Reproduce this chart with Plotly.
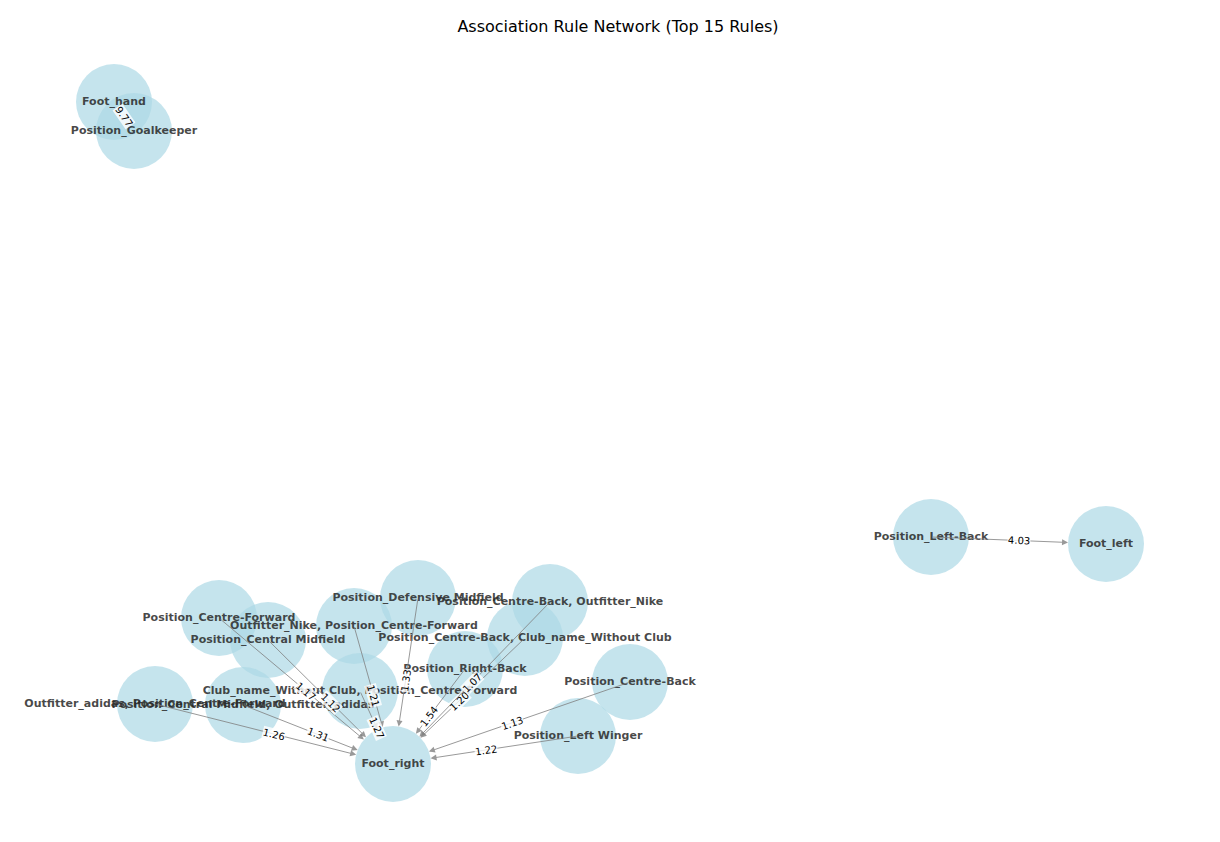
import math
import plotly.graph_objects as go

nodes = ["Foot_hand", "Position_Goalkeeper", "Position_Left-Back", "Foot_left", "Foot_right",
         "Position_Centre-Forward", "Position_Central Midfield", "Outfitter_Nike, Position_Centre-Forward",
         "Position_Defensive Midfield", "Position_Centre-Back, Outfitter_Nike",
         "Position_Centre-Back, Club_name_Without Club", "Position_Right-Back",
         "Club_name_Without Club, Position_Centre-Forward", "Position_Centre-Back", "Position_Left Winger",
         "Outfitter_adidas, Position_Centre-Forward", "Position_Central Midfield, Outfitter_adidas"]
node_x = [114, 134, 931, 1106, 393, 219, 268, 354, 418, 550, 525, 465, 360, 630, 578, 155, 243]
node_y = [101, 130, 536, 543, 763, 617, 639, 625, 597, 601, 637, 668, 690, 681, 735, 703, 704]

sources = ["Position_Goalkeeper", "Position_Left-Back", "Position_Centre-Forward", "Position_Central Midfield",
           "Outfitter_Nike, Position_Centre-Forward", "Club_name_Without Club, Position_Centre-Forward",
           "Position_Defensive Midfield", "Position_Right-Back", "Position_Centre-Back, Club_name_Without Club",
           "Position_Centre-Back, Outfitter_Nike", "Position_Centre-Back", "Position_Left Winger",
           "Outfitter_adidas, Position_Centre-Forward", "Position_Central Midfield, Outfitter_adidas"]
targets = ["Foot_hand", "Foot_left"] + ["Foot_right"] * 12
lifts = [9.77, 4.03, 1.17, 1.12, 1.21, 1.27, 1.33, 1.54, 1.20, 1.07, 1.13, 1.22, 1.26, 1.31]

pos = {n: (x, y) for n, x, y in zip(nodes, node_x, node_y)}
R = 38

fig = go.Figure()
fig.add_trace(go.Scatter(x=node_x, y=node_y, mode="markers",
                         marker=dict(size=76, color="rgba(173,216,230,0.7)", line=dict(width=0)),
                         hoverinfo="text", hovertext=nodes, showlegend=False))
fig.add_trace(go.Scatter(x=node_x, y=node_y, mode="text", text=nodes,
                         textfont=dict(family="DejaVu Sans", size=11, color="rgba(40,40,40,0.85)", weight="bold"),
                         showlegend=False, hoverinfo="skip"))

for s, t, v in zip(sources, targets, lifts):
    x0, y0 = pos[s]
    x1, y1 = pos[t]
    d = math.hypot(x1 - x0, y1 - y0)
    ux, uy = (x1 - x0) / d, (y1 - y0) / d
    fig.add_annotation(x=x1 - ux * R, y=y1 - uy * R, ax=x0, ay=y0, xref="x", yref="y", axref="x", ayref="y",
                       showarrow=True, arrowhead=2, arrowsize=1.2, arrowwidth=1, arrowcolor="rgba(128,128,128,0.8)",
                       text="", standoff=0, startstandoff=0)
    ang = math.degrees(math.atan2(y1 - y0, x1 - x0))
    if ang > 90:
        ang -= 180
    if ang < -90:
        ang += 180
    fig.add_annotation(x=(x0 + x1) / 2, y=(y0 + y1) / 2, xref="x", yref="y", text=f"{v:.2f}",
                       showarrow=False, textangle=ang, bgcolor="rgba(255,255,255,0.8)",
                       font=dict(family="DejaVu Sans", size=10, color="black"), borderpad=0)

fig.update_layout(width=1220, height=842, plot_bgcolor="white", paper_bgcolor="white",
                  margin=dict(l=0, r=0, t=0, b=0),
                  title=dict(text="Association Rule Network (Top 15 Rules)", x=0.5, y=0.985, xanchor="center",
                             font=dict(family="DejaVu Sans", size=16, color="black")),
                  xaxis=dict(range=[8, 1228], visible=False),
                  yaxis=dict(range=[849, 7], visible=False))
fig.write_html("out.html")
